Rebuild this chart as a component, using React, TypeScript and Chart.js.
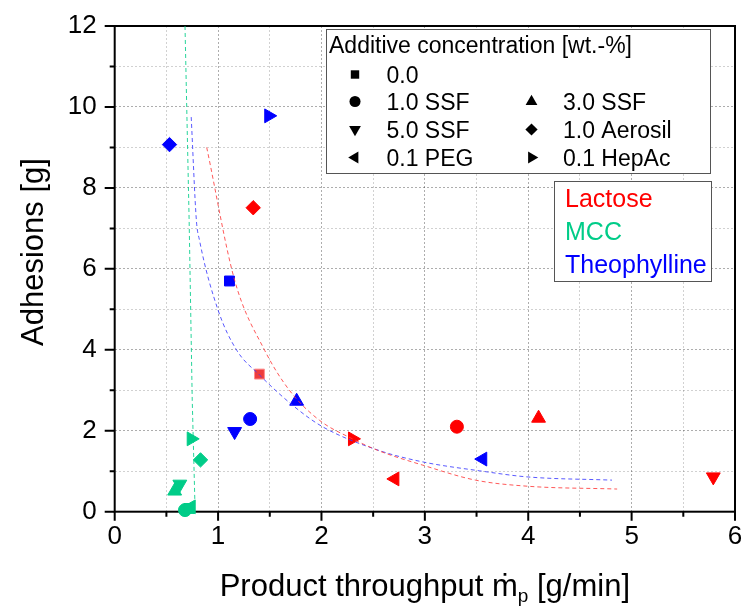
import React, { useEffect, useRef } from 'react';
import { Chart, registerables } from 'chart.js';
import { drawPoint } from 'chart.js/helpers';

Chart.register(...registerables);

const FONT = '"Liberation Sans", Arial, sans-serif';

// Additive series (marker order)
const ADDITIVES = ['0.0', '1.0 SSF', '3.0 SSF', '5.0 SSF', '1.0 Aerosil', '0.1 PEG', '0.1 HepAc'];
const SHAPES = ['rect', 'circle', 'triangle', 'triangle', 'rectRot', 'triangle', 'triangle'];
const ROTATIONS = [0, 0, 0, 180, 0, 270, 90];
const RADII = [7, 6.5, 8, 8, 7.2, 8, 8];

// Materials
const MATERIALS = ['Lactose', 'MCC', 'Theophylline'];
const MATERIAL_COLORS = ['#FF0000', '#00CC88', '#0000FF'];
const CURVE_COLORS = ['rgba(255,60,60,0.85)', 'rgba(0,204,136,0.85)', 'rgba(60,60,255,0.85)'];

// Measured points (x: product throughput g/min, y: adhesions g), in ADDITIVES order
const LACTOSE_X = [1.40, 3.31, 4.10, 5.79, 1.34, 2.71, 2.30];
const LACTOSE_Y = [3.40, 2.10, 2.31, 0.86, 7.51, 0.81, 1.80];
const MCC_X = [0.72, 0.68, 0.58, 0.63, 0.83, 0.74, 0.74];
const MCC_Y = [0.08, 0.04, 0.51, 0.68, 1.28, 0.12, 1.80];
const THEO_X = [1.11, 1.31, 1.76, 1.16, 0.53, 3.56, 1.49];
const THEO_Y = [5.70, 2.29, 2.73, 1.98, 9.07, 1.30, 9.78];

// Fit curves
const LACTOSE_FIT_X = [0.89, 1.16, 1.45, 1.69, 1.98, 2.30, 2.56, 2.98, 3.49, 3.99, 4.86];
const LACTOSE_FIT_Y = [9.00, 5.72, 3.99, 3.00, 2.26, 1.80, 1.50, 1.15, 0.78, 0.63, 0.56];
const MCC_FIT_X = [0.68, 0.72, 0.75, 0.775];
const MCC_FIT_Y = [12.0, 7.2, 2.75, 0.30];
const THEO_FIT_X = [0.74, 0.79, 0.82, 1.00, 1.18, 1.40, 1.74, 2.01, 2.56, 2.98, 3.53, 3.99, 4.81];
const THEO_FIT_Y = [9.75, 7.20, 6.71, 4.98, 3.99, 3.38, 2.59, 2.10, 1.51, 1.23, 1.01, 0.86, 0.78];

const X_MIN = 0, X_MAX = 6, X_MINOR_STEP = 0.5;
const Y_MIN = 0, Y_MAX = 12, Y_MINOR_STEP = 1;

const X_TITLE_MAIN = 'Product throughput \u1E41';
const X_TITLE_SUB = 'p';
const X_TITLE_END = ' [g/min]';
const Y_TITLE = 'Adhesions [g]';
const LEGEND_TITLE = 'Additive concentration [wt.-%]';

const POINTS_X = [LACTOSE_X, MCC_X, THEO_X];
const POINTS_Y = [LACTOSE_Y, MCC_Y, THEO_Y];
const FITS_X = [LACTOSE_FIT_X, MCC_FIT_X, THEO_FIT_X];
const FITS_Y = [LACTOSE_FIT_Y, MCC_FIT_Y, THEO_FIT_Y];

const zip = (xs: number[], ys: number[]) => xs.map((x, i) => ({ x, y: ys[i] }));

const decorPlugin = {
  id: 'decor',
  beforeDatasetsDraw(chart: any) {
    const { ctx, chartArea: a, scales } = chart;
    ctx.save();
    ctx.strokeStyle = '#000';
    ctx.lineWidth = 2;
    ctx.strokeRect(a.left, a.top, a.right - a.left, a.bottom - a.top);
    ctx.beginPath();
    scales.x.ticks.forEach((t: any) => {
      const px = scales.x.getPixelForValue(t.value);
      const major = Math.abs(t.value - Math.round(t.value)) < 1e-6;
      ctx.moveTo(px, a.bottom);
      ctx.lineTo(px, a.bottom + (major ? 9 : 5));
    });
    scales.y.ticks.forEach((t: any) => {
      const py = scales.y.getPixelForValue(t.value);
      const major = Math.round(t.value) % 2 === 0;
      ctx.moveTo(a.left, py);
      ctx.lineTo(a.left - (major ? 10 : 5), py);
    });
    ctx.stroke();
    ctx.restore();
  },
  afterDraw(chart: any) {
    const { ctx, chartArea: a } = chart;
    ctx.save();
    // Axis titles
    ctx.fillStyle = '#000';
    const tf = 31;
    ctx.font = `${tf}px ${FONT}`;
    const w1 = ctx.measureText(X_TITLE_MAIN).width;
    const w3 = ctx.measureText(X_TITLE_END).width;
    ctx.font = `${Math.round(tf * 0.62)}px ${FONT}`;
    const w2 = ctx.measureText(X_TITLE_SUB).width;
    const total = w1 + w2 + w3;
    const cx = (a.left + a.right) / 2;
    const x0 = cx - total / 2;
    const base = 596;
    ctx.textBaseline = 'alphabetic';
    ctx.textAlign = 'left';
    ctx.font = `${tf}px ${FONT}`;
    ctx.fillText(X_TITLE_MAIN, x0, base);
    ctx.font = `${Math.round(tf * 0.62)}px ${FONT}`;
    ctx.fillText(X_TITLE_SUB, x0 + w1, base + 6);
    ctx.font = `${tf}px ${FONT}`;
    ctx.fillText(X_TITLE_END, x0 + w1 + w2, base);

    ctx.save();
    ctx.translate(34, 252);
    ctx.rotate(-Math.PI / 2);
    ctx.textAlign = 'center';
    ctx.textBaseline = 'middle';
    ctx.fillText(Y_TITLE, 0, 0);
    ctx.restore();

    // Legend 1 (additives)
    ctx.fillStyle = '#fff';
    ctx.fillRect(326, 29, 384, 144);
    ctx.strokeStyle = '#555';
    ctx.lineWidth = 1;
    ctx.strokeRect(326.5, 29.5, 384, 144);
    ctx.fillStyle = '#000';
    const lf = 23;
    ctx.font = `${lf}px ${FONT}`;
    ctx.textAlign = 'left';
    ctx.textBaseline = 'alphabetic';
    ctx.fillText(LEGEND_TITLE, 329, 53);
    // [row, column] of each additive in the legend grid
    const slots = [
      [0, 0], [1, 0], [1, 1], [2, 0], [2, 1], [3, 0], [3, 1],
    ];
    const rowY = [74.5, 101.5, 129.5, 157.5];
    const symX = [355, 531.5];
    const txtX = [386.5, 563];
    ADDITIVES.forEach((label, i) => {
      const [r, c] = slots[i];
      const y = rowY[r];
      ctx.fillStyle = '#000';
      drawPoint(ctx, { pointStyle: SHAPES[i], radius: RADII[i] * 0.85, rotation: ROTATIONS[i], borderWidth: 0 } as any, symX[c], y);
      ctx.fillStyle = '#000';
      ctx.fillText(label, txtX[c], y + lf * 0.36);
    });

    // Legend 2 (materials)
    ctx.fillStyle = '#fff';
    ctx.fillRect(554, 181, 157, 100);
    ctx.strokeStyle = '#555';
    ctx.strokeRect(554.5, 181.5, 157, 100);
    const mf = 25;
    ctx.font = `${mf}px ${FONT}`;
    const mY = [198, 231, 264];
    MATERIALS.forEach((m, i) => {
      ctx.fillStyle = MATERIAL_COLORS[i];
      ctx.fillText(m, 565, mY[i] + mf * 0.36);
    });
    ctx.restore();
  },
};

export default function App() {
  const ref = useRef<HTMLCanvasElement | null>(null);
  useEffect(() => {
    if (!ref.current) return;
    const datasets: any[] = [];
    MATERIALS.forEach((m, mi) => {
      datasets.push({
        label: `${m} fit`,
        data: zip(FITS_X[mi], FITS_Y[mi]),
        showLine: true,
        pointRadius: 0,
        borderColor: CURVE_COLORS[mi],
        borderWidth: 1,
        borderDash: [4, 3],
        cubicInterpolationMode: mi === 1 ? 'default' : 'monotone',
        tension: 0,
        order: 0,
      });
    });
    MATERIALS.forEach((m, mi) => {
      ADDITIVES.forEach((ad, ai) => {
        datasets.push({
          label: `${m} ${ad}`,
          data: [{ x: POINTS_X[mi][ai], y: POINTS_Y[mi][ai] }],
          pointStyle: SHAPES[ai],
          rotation: ROTATIONS[ai],
          pointRadius: RADII[ai],
          backgroundColor: mi === 0 && ai === 0 ? 'rgba(238,60,60,1)' : MATERIAL_COLORS[mi],
          borderColor: mi === 0 && ai === 0 ? 'rgba(255,140,140,1)' : MATERIAL_COLORS[mi],
          borderWidth: 1,
          showLine: false,
          clip: false,
          order: 1,
        });
      });
    });
    const chart = new Chart(ref.current, {
      type: 'scatter',
      data: { datasets },
      options: {
        responsive: false,
        animation: false,
        devicePixelRatio: 1,
        layout: { padding: { top: 26, right: 7.7, left: 0, bottom: 0 } },
        plugins: { legend: { display: false }, tooltip: { enabled: false } },
        scales: {
          x: {
            type: 'linear',
            min: X_MIN,
            max: X_MAX,
            afterFit: (s: any) => { s.height = 98.3; s.paddingLeft = 0; s.paddingRight = 0; },
            ticks: {
              stepSize: X_MINOR_STEP,
              autoSkip: false,
              maxRotation: 0,
              padding: 10,
              color: '#000',
              font: { size: 26, family: FONT },
              callback: (v: any) => (Math.abs(v - Math.round(v)) < 1e-6 ? String(Math.round(v)) : ''),
            },
            grid: {
              drawTicks: false,
              color: (c: any) => (c.tick && Math.abs(c.tick.value - Math.round(c.tick.value)) < 1e-6 ? 'rgba(0,0,0,0.32)' : 'rgba(0,0,0,0.18)'),
              lineWidth: 1,
            },
            border: { display: false, dash: [2, 2] },
          },
          y: {
            type: 'linear',
            min: Y_MIN,
            max: Y_MAX,
            afterFit: (s: any) => { s.width = 114.7; s.paddingTop = 0; s.paddingBottom = 0; },
            ticks: {
              stepSize: Y_MINOR_STEP,
              autoSkip: false,
              padding: 18,
              color: '#000',
              font: { size: 26, family: FONT },
              callback: (v: any) => (Math.round(v) % 2 === 0 ? String(Math.round(v)) : ''),
            },
            grid: {
              drawTicks: false,
              color: (c: any) => (c.tick && Math.round(c.tick.value) % 2 === 0 ? 'rgba(0,0,0,0.32)' : 'rgba(0,0,0,0.18)'),
              lineWidth: 1,
            },
            border: { display: false, dash: [2, 2] },
          },
        },
      },
      plugins: [decorPlugin],
    } as any);
    return () => chart.destroy();
  }, []);
  return (
    <div style={{ position: 'absolute', left: 0, top: 0, width: 744, height: 610, background: '#fff' }}>
      <canvas ref={ref} width={744} height={610} style={{ display: 'block', width: 744, height: 610 }} />
    </div>
  );
}
